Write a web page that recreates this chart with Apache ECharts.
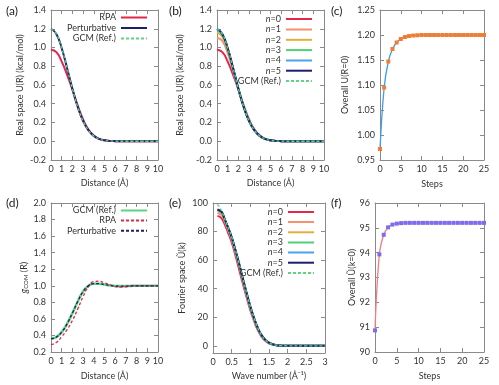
<!DOCTYPE html>
<html>
<head>
<meta charset="utf-8">
<script src="https://cdn.jsdelivr.net/npm/echarts@6/dist/echarts.min.js"></script>
<style>
  html, body { margin: 0; padding: 0; background: #fff; }
  #chart { width: 499px; height: 385px; }
</style>
</head>
<body>
<div id="chart"></div>
<script>
// distances (A) used by panels a, b, d
const distR = [0, 0.5, 1, 1.5, 2, 2.5, 3, 3.5, 4, 4.5, 5, 5.5, 6, 6.5, 7, 7.5, 8, 8.5, 9, 9.5, 10];

// (a) real space potential
const aRPA   = [0.975, 0.95, 0.85, 0.71, 0.55, 0.38, 0.232, 0.125, 0.06, 0.026, 0.01, 0.003, 0.001, 0, 0, 0, 0, 0, 0, 0, 0];
const aPert  = [1.2, 1.144, 0.992, 0.782, 0.56, 0.365, 0.216, 0.116, 0.057, 0.025, 0.01, 0.004, 0.001, 0, 0, 0, 0, 0, 0, 0, 0];
const aGCM   = [1.2, 1.144, 0.992, 0.782, 0.56, 0.365, 0.216, 0.116, 0.057, 0.025, 0.01, 0.004, 0.001, 0, 0, 0, 0, 0, 0, 0, 0];

// (b) iterations n=0..5
const bN0 = [0.975, 0.95, 0.85, 0.71, 0.55, 0.38, 0.232, 0.125, 0.06, 0.026, 0.01, 0.003, 0.001, 0, 0, 0, 0, 0, 0, 0, 0];
const bN1 = [1.105, 1.07, 0.94, 0.757, 0.553, 0.37, 0.222, 0.12, 0.058, 0.025, 0.01, 0.004, 0.001, 0, 0, 0, 0, 0, 0, 0, 0];
const bN2 = [1.16, 1.115, 0.972, 0.772, 0.557, 0.367, 0.218, 0.117, 0.057, 0.025, 0.01, 0.004, 0.001, 0, 0, 0, 0, 0, 0, 0, 0];
const bN3 = [1.185, 1.133, 0.984, 0.778, 0.559, 0.366, 0.217, 0.116, 0.057, 0.025, 0.01, 0.004, 0.001, 0, 0, 0, 0, 0, 0, 0, 0];
const bN4 = [1.195, 1.14, 0.99, 0.781, 0.56, 0.365, 0.216, 0.116, 0.057, 0.025, 0.01, 0.004, 0.001, 0, 0, 0, 0, 0, 0, 0, 0];
const bN5 = [1.2, 1.144, 0.992, 0.782, 0.56, 0.365, 0.216, 0.116, 0.057, 0.025, 0.01, 0.004, 0.001, 0, 0, 0, 0, 0, 0, 0, 0];
const bGCM = [1.2, 1.144, 0.992, 0.782, 0.56, 0.365, 0.216, 0.116, 0.057, 0.025, 0.01, 0.004, 0.001, 0, 0, 0, 0, 0, 0, 0, 0];

// (c) overall U(R=0) per step
const steps = [0, 1, 2, 3, 4, 5, 6, 7, 8, 9, 10, 11, 12, 13, 14, 15, 16, 17, 18, 19, 20, 21, 22, 23, 24, 25];
const cVals = [0.972, 1.095, 1.147, 1.172, 1.185, 1.192, 1.196, 1.198, 1.199, 1.1995, 1.2, 1.2, 1.2, 1.2, 1.2, 1.2, 1.2, 1.2, 1.2, 1.2, 1.2, 1.2, 1.2, 1.2, 1.2, 1.2];

// (d) g_COM(R)
const dGCM  = [0.36, 0.38, 0.44, 0.54, 0.67, 0.81, 0.93, 1.0, 1.025, 1.025, 1.015, 1.005, 0.998, 0.996, 0.997, 0.999, 1.0, 1.0, 1.0, 1.0, 1.0];
const dRPA  = [0.29, 0.315, 0.385, 0.47, 0.58, 0.72, 0.87, 0.99, 1.05, 1.055, 1.035, 1.01, 0.99, 0.985, 0.988, 0.995, 1.0, 1.0, 1.0, 1.0, 1.0];
const dPert = [0.36, 0.38, 0.44, 0.54, 0.67, 0.81, 0.93, 1.0, 1.025, 1.025, 1.015, 1.005, 0.998, 0.996, 0.997, 0.999, 1.0, 1.0, 1.0, 1.0, 1.0];

// (e) Fourier space
const waveK = [0.12, 0.2, 0.25, 0.3, 0.4, 0.5, 0.6, 0.7, 0.8, 0.9, 1.0, 1.1, 1.2, 1.3, 1.4, 1.5, 1.6, 1.7, 1.8, 2.0, 2.5, 3.0];
const eN0 = [91, 90, 88.5, 86, 79.5, 72.5, 63.5, 53.5, 43.5, 34, 25, 17.5, 11, 6.5, 3.5, 1.8, 0.9, 0.4, 0.1, 0, 0, 0];
const eN1 = [93, 92, 91, 88, 81.5, 74.5, 65.5, 56, 45.5, 35.5, 26.3, 18.5, 11.8, 7, 3.9, 2, 1, 0.45, 0.15, 0.03, 0, 0];
const eN2 = [94.3, 93.3, 92.2, 89, 82.5, 75.4, 66.4, 56.8, 46.4, 36.4, 27, 19, 12.2, 7.3, 4.1, 2.1, 1.05, 0.5, 0.18, 0.04, 0, 0];
const eN3 = [95, 94, 92.8, 89.4, 82.9, 75.8, 66.8, 57.2, 46.8, 36.8, 27.3, 19.3, 12.4, 7.4, 4.2, 2.2, 1.1, 0.5, 0.2, 0.05, 0, 0];
const eN4 = [95.3, 94.3, 93, 89.5, 83, 76, 67, 57.4, 47, 37, 27.5, 19.4, 12.5, 7.5, 4.2, 2.2, 1.1, 0.5, 0.2, 0.05, 0, 0];
const eN5 = [95.5, 94.5, 93.1, 89.6, 83.1, 76.1, 67.1, 57.5, 47.1, 37.1, 27.6, 19.5, 12.5, 7.5, 4.2, 2.2, 1.1, 0.5, 0.2, 0.05, 0, 0];
const eGCM = [99, 96, 93.3, 89.7, 83.2, 76.2, 67.2, 57.6, 47.2, 37.2, 27.7, 19.6, 12.6, 7.5, 4.2, 2.2, 1.1, 0.5, 0.2, 0.05, 0, 0];
const eYTicks = [0, 20, 40, 60, 80, 100];

// (f) overall U~(k=0) per step
const fVals = [90.87, 93.93, 94.72, 95.02, 95.13, 95.17, 95.19, 95.2, 95.2, 95.2, 95.2, 95.2, 95.2, 95.2, 95.2, 95.2, 95.2, 95.2, 95.2, 95.2, 95.2, 95.2, 95.2, 95.2, 95.2, 95.2];

const FONT = 'Lato';
const TXT = '#333';
const AX = '#8a8a8a';
const C = {
  red: '#e3264a', salmon: '#f7916d', gold: '#e2ae3c', green: '#4fcf77',
  blue: '#4aa2ec', navy: '#1d1f6b', gcm: '#5fd383'
};

const chart = echarts.init(document.getElementById('chart'));

const grids = [
  { left: 51, top: 10, width: 107, height: 150 },
  { left: 217, top: 10, width: 107, height: 150 },
  { left: 380, top: 10, width: 104, height: 150 },
  { left: 51, top: 203, width: 107, height: 149 },
  { left: 213, top: 203, width: 112, height: 150 },
  { left: 375, top: 203, width: 109, height: 149 }
];

const xAxis = [];
const yAxis = [];

function baseAxis(g, o) {
  return {
    type: 'value', gridIndex: g, min: o.min, max: o.max, interval: o.interval,
    axisLine: { show: true, onZero: false, lineStyle: { color: AX, width: 1 } },
    axisTick: { show: true, inside: true, length: 4, lineStyle: { color: AX }, customValues: o.custom },
    splitLine: { show: false }
  };
}

function addAxes(g, xo, yo) {
  const lbl = (o) => ({ margin: 5, fontSize: 9, color: TXT, fontFamily: FONT, formatter: o.fmt, customValues: o.custom });
  const nm = { fontSize: 9, color: TXT, fontFamily: FONT };
  xAxis.push(Object.assign(baseAxis(g, xo), {
    position: 'bottom', name: xo.name, nameLocation: 'middle', nameGap: xo.gap, nameMoveOverlap: false,
    nameTextStyle: nm, axisLabel: lbl(xo)
  }));
  xAxis.push(Object.assign(baseAxis(g, xo), { position: 'top', axisLabel: { show: false } }));
  yAxis.push(Object.assign(baseAxis(g, yo), {
    position: 'left', name: yo.name, nameLocation: 'middle', nameGap: yo.gap, nameMoveOverlap: false,
    nameTextStyle: Object.assign({}, nm, yo.rich ? { rich: yo.rich } : {}), axisLabel: lbl(yo)
  }));
  yAxis.push(Object.assign(baseAxis(g, yo), { position: 'right', axisLabel: { show: false } }));
}

const f1 = v => v.toFixed(1);
const f2 = v => v.toFixed(2);
const f0 = v => String(Math.round(v));
const fk = v => String(Math.round(v * 10) / 10);

addAxes(0, { min: 0, max: 10, interval: 1, name: 'Distance (Å)', gap: 19 },
           { min: -0.2, max: 1.4, interval: 0.2, fmt: f1, name: 'Real space U(R) (kcal/mol)', gap: 26 });
addAxes(1, { min: 0, max: 10, interval: 1, name: 'Distance (Å)', gap: 19 },
           { min: -0.2, max: 1.4, interval: 0.2, fmt: f1, name: 'Real space U(R) (kcal/mol)', gap: 32 });
addAxes(2, { min: 0, max: 25, interval: 5, name: 'Steps', gap: 20 },
           { min: 0.95, max: 1.25, interval: 0.05, fmt: f2, name: 'Overall U(R=0)', gap: 30 });
addAxes(3, { min: 0, max: 10, interval: 1, name: 'Distance (Å)', gap: 20 },
           { min: 0.2, max: 2.0, interval: 0.2, fmt: f1, name: '{g|g}{s|COM} (R)', gap: 22,
             rich: { g: { fontStyle: 'italic', fontSize: 9, fontFamily: FONT, color: TXT },
                     s: { fontSize: 6, fontFamily: FONT, color: TXT, verticalAlign: 'bottom', padding: [4, 0, 0, 0] } } });
addAxes(4, { min: 0, max: 3, interval: 0.5, fmt: fk, name: 'Wave number (Å⁻¹)', gap: 19 },
           { min: -5, max: 100, interval: 5, custom: eYTicks, fmt: f0, name: 'Fourier space Ũ(k)', gap: 26 });
addAxes(5, { min: 0, max: 25, interval: 5, name: 'Steps', gap: 20 },
           { min: 90, max: 96, interval: 1, fmt: f0, name: 'Overall Ũ(k=0)', gap: 18 });

const series = [];
function curve(g, name, xs, ys, color, width, dashed, z) {
  series.push({
    type: 'line', name: name, xAxisIndex: 2 * g, yAxisIndex: 2 * g,
    data: xs.map((x, j) => [x, ys[j]]),
    symbol: 'none', showSymbol: false, smooth: 0.5,
    lineStyle: { color: color, width: width, type: dashed ? [3, 2] : 'solid' },
    itemStyle: { color: color }, z: z || 2, animation: false
  });
}

curve(0, 'RPA@a', distR, aRPA, C.red, 2);
curve(0, 'Perturbative@a', distR, aPert, C.navy, 2);
curve(0, 'GCM (Ref.)@a', distR, aGCM, C.gcm, 1.3, true);

curve(1, 'n=0@b', distR, bN0, C.red, 2);
curve(1, 'n=1@b', distR, bN1, C.salmon, 2);
curve(1, 'n=2@b', distR, bN2, C.gold, 2);
curve(1, 'n=3@b', distR, bN3, C.green, 2);
curve(1, 'n=4@b', distR, bN4, C.blue, 2);
curve(1, 'n=5@b', distR, bN5, C.navy, 2);
curve(1, 'GCM (Ref.)@b', distR, bGCM, C.gcm, 1.3, true);

curve(3, 'GCM (Ref.)@d', distR, dGCM, C.gcm, 2.6);
curve(3, 'RPA@d', distR, dRPA, C.red, 1.3, true);
curve(3, 'Perturbative@d', distR, dPert, C.navy, 1.3, true);

curve(4, 'n=0@e', waveK, eN0, C.red, 2);
curve(4, 'n=1@e', waveK, eN1, C.salmon, 2);
curve(4, 'n=2@e', waveK, eN2, C.gold, 2);
curve(4, 'n=3@e', waveK, eN3, C.green, 2);
curve(4, 'n=4@e', waveK, eN4, C.blue, 2);
curve(4, 'n=5@e', waveK, eN5, C.navy, 2);
curve(4, 'GCM (Ref.)@e', waveK, eGCM, C.gcm, 1.3, true);

// convergence panels: line plus square markers
function stepSeries(g, ys, lineColor, markColor) {
  series.push({
    type: 'line', xAxisIndex: 2 * g, yAxisIndex: 2 * g,
    data: steps.map((s, j) => [s, ys[j]]),
    smooth: 0.4, symbol: 'rect', symbolSize: 4, showSymbol: true,
    lineStyle: { color: lineColor, width: 1.3 },
    itemStyle: { color: markColor }, animation: false
  });
}
stepSeries(2, cVals, '#3d9be9', '#f47c30');
stepSeries(5, fVals, '#f27d7d', '#7b6cf0');

// one legend per row so icons line up and text is right aligned
const legend = [];
function legendRows(names, iconRight, tops) {
  names.forEach((n, i) => {
    legend.push({
      data: [n], orient: 'vertical', align: 'right', selectedMode: false,
      right: 499 - iconRight, top: tops[i] - 5, padding: 0,
      itemWidth: 26, itemHeight: 10,
      // hide the symbol the line icon would draw in the middle
      itemStyle: { color: 'rgba(0,0,0,0)', borderColor: 'rgba(0,0,0,0)', borderWidth: 0 },
      textStyle: {
        fontSize: 9, fontFamily: FONT, color: TXT,
        rich: { i: { fontStyle: 'italic', fontSize: 9, fontFamily: FONT, color: TXT },
                t: { fontSize: 9, fontFamily: FONT, color: TXT } }
      },
      formatter: name => {
        const s = name.split('@')[0];
        return s.startsWith('n=') ? '{i|n}{t|' + s.slice(1) + '}' : s;
      }
    });
  });
}
legendRows(['RPA@a', 'Perturbative@a', 'GCM (Ref.)@a'], 148, [18, 28.5, 39]);
legendRows(['n=0@b', 'n=1@b', 'n=2@b', 'n=3@b', 'n=4@b', 'n=5@b', 'GCM (Ref.)@b'], 313,
           [19.5, 30, 40.3, 50.6, 61, 71.2, 81.5]);
legendRows(['GCM (Ref.)@d', 'RPA@d', 'Perturbative@d'], 148, [211, 221, 231.3]);
legendRows(['n=0@e', 'n=1@e', 'n=2@e', 'n=3@e', 'n=4@e', 'n=5@e', 'GCM (Ref.)@e'], 315,
           [212.5, 222.5, 232.8, 243, 253, 263.2, 273.4]);

// panel letters
const panelTags = [['(a)', 6, 12], ['(b)', 169, 12], ['(c)', 331, 12], ['(d)', 6, 204], ['(e)', 169, 204], ['(f)', 331, 204]];
const graphic = panelTags.map(p => ({
  type: 'text', left: p[1], top: p[2] - 7,
  style: { text: p[0], fontSize: 12, fontFamily: FONT, fill: '#222' }
}));

chart.setOption({
  animation: false,
  grid: grids,
  xAxis: xAxis,
  yAxis: yAxis,
  legend: legend,
  series: series,
  graphic: graphic
});
</script>
</body>
</html>
